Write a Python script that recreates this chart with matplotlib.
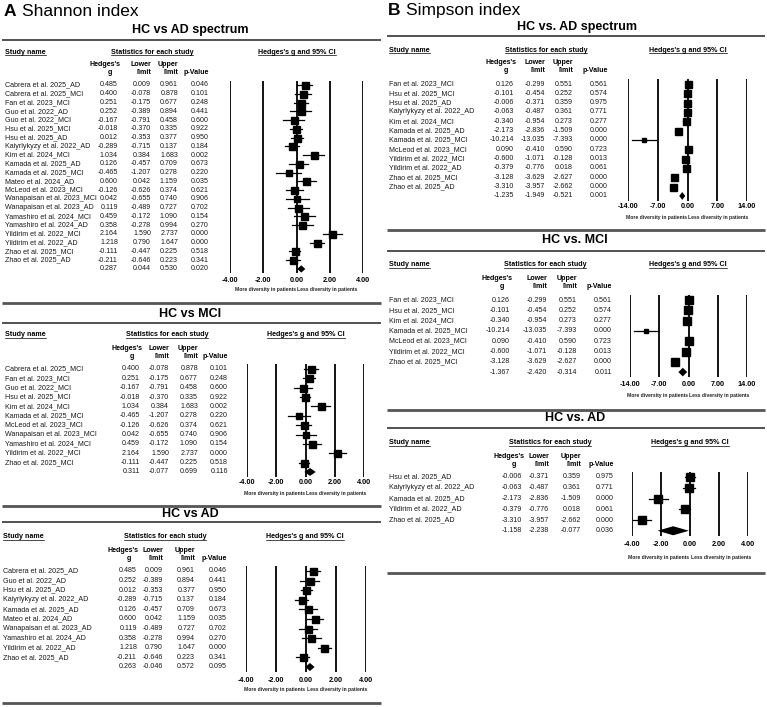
import matplotlib
matplotlib.use('Agg')
import matplotlib.pyplot as plt
from matplotlib.lines import Line2D
from matplotlib.transforms import blended_transform_factory

plt.rcParams['font.family'] = ['Liberation Sans', 'DejaVu Sans']

# ---- data: Shannon index (all studies, AD spectrum) ----
shannon_names = ['Cabrera et al. 2025_AD', 'Cabrera et al. 2025_MCI', 'Fan et al. 2023_MCI',
                 'Guo et al. 2022_AD', 'Guo et al. 2022_MCI', 'Hsu et al. 2025_MCI',
                 'Hsu et al. 2025_AD', 'Kaiyrlykyzy et al. 2022_AD', 'Kim et al. 2024_MCI',
                 'Kamada et al. 2025_AD', 'Kamada et al. 2025_MCI', 'Mateo et al. 2024_AD',
                 'McLeod et al. 2023_MCI', 'Wanapaisan et al. 2023_MCI', 'Wanapaisan et al. 2023_AD',
                 'Yamashiro et al. 2024_MCI', 'Yamashiro et al. 2024_AD', 'Yildirim et al. 2022_MCI',
                 'Yildirim et al. 2022_AD', 'Zhao et al. 2025_MCI', 'Zhao et al. 2025_AD']
shannon_g = [0.485, 0.400, 0.251, 0.252, -0.167, -0.018, 0.012, -0.289, 1.034, 0.126, -0.465,
             0.600, -0.126, 0.042, 0.119, 0.459, 0.358, 2.164, 1.218, -0.111, -0.211]
shannon_lo = [0.009, -0.078, -0.175, -0.389, -0.791, -0.370, -0.353, -0.715, 0.384, -0.457, -1.207,
              0.042, -0.626, -0.655, -0.489, -0.172, -0.278, 1.590, 0.790, -0.447, -0.646]
shannon_hi = [0.961, 0.878, 0.677, 0.894, 0.458, 0.335, 0.377, 0.137, 1.683, 0.709, 0.278,
              1.159, 0.374, 0.740, 0.727, 1.090, 0.994, 2.737, 1.647, 0.225, 0.223]
shannon_p = [0.046, 0.101, 0.248, 0.441, 0.600, 0.922, 0.950, 0.184, 0.002, 0.673, 0.220,
             0.035, 0.621, 0.906, 0.702, 0.154, 0.270, 0.000, 0.000, 0.518, 0.341]
# pooled g, lower, upper, p
shannon_pool_all = [0.287, 0.044, 0.530, 0.020]
shannon_pool_mci = [0.311, -0.077, 0.699, 0.116]
shannon_pool_ad = [0.263, -0.046, 0.572, 0.095]

# ---- data: Simpson index ----
simpson_names = ['Fan et al. 2023_MCI', 'Hsu et al. 2025_MCI', 'Hsu et al. 2025_AD',
                 'Kaiyrlykyzy et al. 2022_AD', 'Kim et al. 2024_MCI', 'Kamada et al. 2025_AD',
                 'Kamada et al. 2025_MCI', 'McLeod et al. 2023_MCI', 'Yildirim et al. 2022_MCI',
                 'Yildirim et al. 2022_AD', 'Zhao et al. 2025_MCI', 'Zhao et al. 2025_AD']
simpson_g = [0.126, -0.101, -0.006, -0.063, -0.340, -2.173, -10.214, 0.090, -0.600, -0.379, -3.128, -3.310]
simpson_lo = [-0.299, -0.454, -0.371, -0.487, -0.954, -2.836, -13.035, -0.410, -1.071, -0.776, -3.629, -3.957]
simpson_hi = [0.551, 0.252, 0.359, 0.361, 0.273, -1.509, -7.393, 0.590, -0.128, 0.018, -2.627, -2.662]
simpson_p = [0.561, 0.574, 0.975, 0.771, 0.277, 0.000, 0.000, 0.723, 0.013, 0.061, 0.000, 0.000]
simpson_pool_all = [-1.235, -1.949, -0.521, 0.001]
simpson_pool_mci = [-1.367, -2.420, -0.314, 0.011]
simpson_pool_ad = [-1.158, -2.238, -0.077, 0.036]

W, H = 767, 707
fig = plt.figure(figsize=(W / 100, H / 100), dpi=100)


def fx(x):
    return x / W


def fy(y):
    return 1 - y / H


def subset(names, cols, tag):
    keep = [i for i, nm in enumerate(names) if tag is None or nm.endswith(tag)]
    return [names[i] for i in keep], [[c[i] for i in keep] for c in cols]


underlined = []


def hline(y, x0, x1, lw, color):
    fig.add_artist(Line2D([fx(x0), fx(x1)], [fy(y), fy(y)], transform=fig.transFigure,
                          lw=lw, color=color, solid_capstyle='butt'))


def panel(names, cols, pool, lay):
    g, lo, hi, p = cols
    n = len(names)
    y0, dy = lay['y0'], lay['dy']
    top = y0 - dy / 2
    bot = y0 + n * dy + dy / 2
    xl, xr = lay['plot']
    lim = lay['lim']
    ext = lay['ext']

    # title and rules
    fig.text(fx(lay['cx']), fy(lay['title_y']), lay['title'], ha='center', va='center',
             fontsize=9, fontweight='bold')
    hline(lay['rule_y'], ext[0], ext[1], 1.2, '#333333')
    hline(lay['bottom'], ext[0], ext[1], 2.0, '#555555')

    # headers
    hs = dict(fontsize=5.1, fontweight='bold', va='center')
    underlined.append(fig.text(fx(lay['name_x']), fy(lay['head_y']), 'Study name', ha='left', **hs))
    underlined.append(fig.text(fx(lay['stats_x']), fy(lay['head_y']), 'Statistics for each study',
                               ha='center', **hs))
    underlined.append(fig.text(fx(lay['ci_x']), fy(lay['head_y']), "Hedges's g and 95% CI",
                               ha='center', **hs))
    cg, clo, chi, cp = lay['cols']
    fig.text(fx(cg + 2), fy(lay['h1']), "Hedges's", ha='right', **hs)
    fig.text(fx(cg - 8), fy(lay['h2']), 'g', ha='center', **hs)
    fig.text(fx(clo), fy(lay['h1']), 'Lower', ha='right', **hs)
    fig.text(fx(clo), fy(lay['h2']), 'limit', ha='right', **hs)
    fig.text(fx(chi), fy(lay['h1']), 'Upper', ha='right', **hs)
    fig.text(fx(chi), fy(lay['h2']), 'limit', ha='right', **hs)
    fig.text(fx(cp), fy(lay['h2']), 'p-Value', ha='right', **hs)

    # forest axes
    ax = fig.add_axes([fx(xl), fy(bot), fx(xr) - fx(xl), (bot - top) / H])
    ax.set_xlim(-lim, lim)
    ax.set_ylim(n + 0.5, -0.5)
    for s in ax.spines.values():
        s.set_visible(False)
    ax.patch.set_alpha(0)
    ticks = [-lim, -lim / 2, 0, lim / 2, lim]
    for t in ticks:
        ax.axvline(t, color='black', lw=1.3)
    ax.set_xticks(ticks)
    ax.set_xticklabels([f'{t:.2f}' for t in ticks], fontsize=5.2, fontweight='bold')
    ax.tick_params(axis='x', length=0, pad=(lay['tick_y'] - bot - 3.5) * 0.72)
    ax.set_yticks([])

    for i in range(n):
        se = (hi[i] - lo[i]) / 3.92
        ms = lay['sq'] * 0.72 * min(1.0, 0.35 / se) ** 0.35
        ax.plot([lo[i], hi[i]], [i, i], color='black', lw=0.9)
        ax.plot(g[i], i, 's', color='black', ms=ms)
    pg, plo, phi, pp = pool
    ax.fill([plo, pg, phi, pg], [n, n - 0.42, n, n + 0.42], color='black', lw=0)

    bt = blended_transform_factory(ax.transData, fig.transFigure)
    cs = dict(fontsize=3.6, fontweight='bold', va='center', transform=bt, color='#222222')
    ax.text(-lim * 0.01, fy(lay['cap_y']), 'More diversity in patients', ha='right', **cs)
    ax.text(lim * 0.01, fy(lay['cap_y']), 'Less diversity in patients', ha='left', **cs)

    # table rows
    tt = blended_transform_factory(fig.transFigure, ax.transData)
    ts = dict(fontsize=5.1, va='center', transform=tt, color='#1a1a1a')
    for i in range(n):
        fig.text(fx(lay['name_x']), i, names[i], ha='left', **ts)
        for x, v in zip(lay['cols'], (g[i], lo[i], hi[i], p[i])):
            fig.text(fx(x), i, f'{v:.3f}', ha='right', **ts)
    for x, v in zip(lay['cols'], pool):
        fig.text(fx(x), n, f'{v:.3f}', ha='right', **ts)


left = (2, 381)
right = (387, 765)
layouts = [
    dict(title='HC vs AD spectrum', cx=190, title_y=30, rule_y=40, head_y=52, h1=64, h2=72,
         y0=85, dy=8.76, name_x=5, cols=(118, 151, 178, 209), stats_x=152, plot=(230, 363),
         lim=4, ci_x=297, tick_y=280, cap_y=289, bottom=303, ext=left, sq=7),
    dict(title='HC vs MCI', cx=190, title_y=314, rule_y=323, head_y=335, h1=348, h2=357,
         y0=369, dy=9.36, name_x=5, cols=(140, 169, 198, 228), stats_x=167, plot=(247, 364),
         lim=4, ci_x=306, tick_y=483, cap_y=493, bottom=506, ext=left, sq=7),
    dict(title='HC vs AD', cx=190, title_y=514, rule_y=522, head_y=537, h1=550, h2=558,
         y0=571, dy=9.6, name_x=3, cols=(137, 163, 195, 227), stats_x=165, plot=(246, 366),
         lim=4, ci_x=305, tick_y=680, cap_y=690, bottom=703, ext=left, sq=7),
    dict(title='HC vs. AD spectrum', cx=577, title_y=27, rule_y=36, head_y=50, h1=62, h2=71,
         y0=84, dy=9.33, name_x=389, cols=(514, 545, 573, 608), stats_x=546, plot=(628, 747),
         lim=14, ci_x=688, tick_y=207, cap_y=217, bottom=230, ext=right, sq=7),
    dict(title='HC vs. MCI', cx=575, title_y=240, rule_y=251, head_y=265, h1=278, h2=287,
         y0=300, dy=10.3, name_x=389, cols=(510, 547, 577, 612), stats_x=545, plot=(630, 747),
         lim=14, ci_x=688, tick_y=385, cap_y=396, bottom=410, ext=right, sq=7.5),
    dict(title='HC vs. AD', cx=575, title_y=418, rule_y=428, head_y=443, h1=456, h2=464,
         y0=477, dy=10.75, name_x=389, cols=(522, 549, 581, 614), stats_x=550, plot=(632, 748),
         lim=4, ci_x=690, tick_y=545, cap_y=558, bottom=573, ext=right, sq=8),
]

sh_cols = [shannon_g, shannon_lo, shannon_hi, shannon_p]
si_cols = [simpson_g, simpson_lo, simpson_hi, simpson_p]
specs = [
    (shannon_names, sh_cols, None, shannon_pool_all),
    (shannon_names, sh_cols, '_MCI', shannon_pool_mci),
    (shannon_names, sh_cols, '_AD', shannon_pool_ad),
    (simpson_names, si_cols, None, simpson_pool_all),
    (simpson_names, si_cols, '_MCI', simpson_pool_mci),
    (simpson_names, si_cols, '_AD', simpson_pool_ad),
]
for (nm, cols, tag, pool), lay in zip(specs, layouts):
    sub_names, sub_cols = subset(nm, cols, tag)
    panel(sub_names, sub_cols, pool, lay)

# panel letters
fig.text(fx(4), fy(16), 'A', fontsize=12.5, fontweight='bold', va='baseline')
fig.text(fx(22), fy(16), 'Shannon index', fontsize=12.5, va='baseline')
fig.text(fx(388), fy(15), 'B', fontsize=12.5, fontweight='bold', va='baseline')
fig.text(fx(406), fy(15), 'Simpson index', fontsize=12.5, va='baseline')

# underline the section headers
fig.canvas.draw()
r = fig.canvas.get_renderer()
for t in underlined:
    bb = t.get_window_extent(r)
    yl = (bb.y0 + 0.3) / fig.bbox.height
    fig.add_artist(Line2D([bb.x0 / fig.bbox.width, bb.x1 / fig.bbox.width], [yl, yl],
                          transform=fig.transFigure, lw=0.5, color='black'))

fig.savefig('out.png', dpi=100)
